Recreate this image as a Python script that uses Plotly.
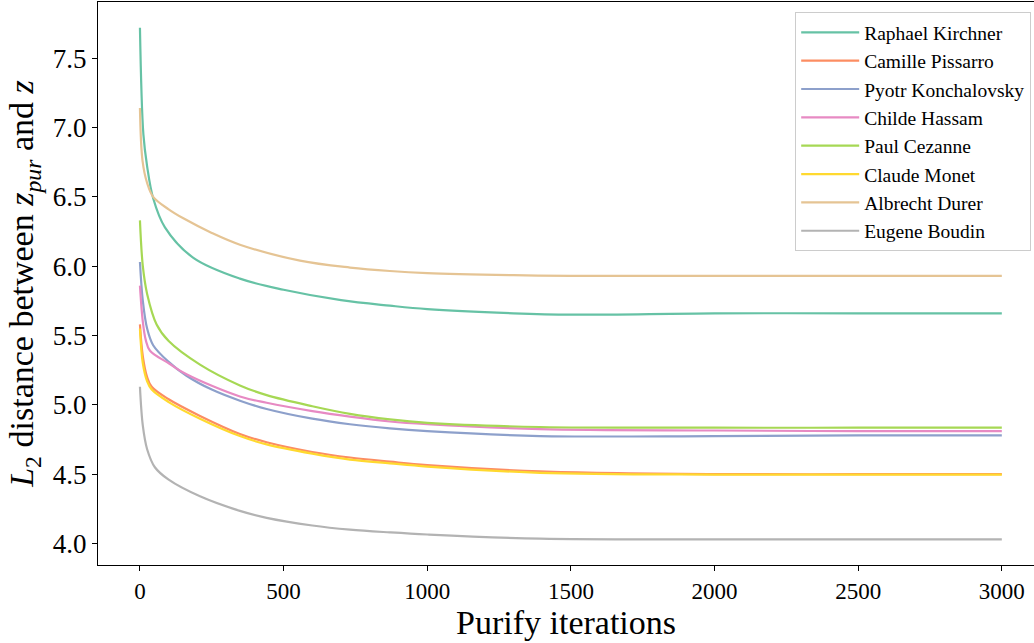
import plotly.graph_objects as go

names = ["Raphael Kirchner", "Camille Pissarro", "Pyotr Konchalovsky", "Childe Hassam",
         "Paul Cezanne", "Claude Monet", "Albrecht Durer", "Eugene Boudin"]
colors = ["#66c2a5", "#fc8d62", "#8da0cb", "#e78ac3", "#a6d854", "#ffd92f", "#e5c494", "#b3b3b3"]

x_kirchner = [0, 12, 25, 46, 87, 186, 348, 500, 700, 870, 1000, 1300, 1500, 2000, 2500, 3000]
y_kirchner = [7.72, 6.95, 6.72, 6.49, 6.28, 6.06, 5.91, 5.83, 5.755, 5.715, 5.69, 5.66, 5.65, 5.66, 5.66, 5.66]

x_pissarro = [0, 10, 25, 41, 100, 209, 348, 441, 600, 731, 870, 1000, 1392, 2000, 2500, 3000]
y_pissarro = [5.58, 5.35, 5.20, 5.13, 5.04, 4.92, 4.79, 4.73, 4.66, 4.62, 4.59, 4.565, 4.52, 4.50, 4.50, 4.50]

x_konchalovsky = [0, 10, 25, 46, 100, 162, 250, 348, 441, 600, 731, 870, 1000, 1392, 2000, 2500, 3000]
y_konchalovsky = [6.03, 5.75, 5.55, 5.43, 5.31, 5.21, 5.11, 5.03, 4.97, 4.90, 4.86, 4.83, 4.81, 4.775, 4.775, 4.78, 4.78]

x_hassam = [0, 10, 20, 35, 100, 162, 348, 441, 600, 731, 870, 1000, 1392, 2000, 2500, 3000]
y_hassam = [5.86, 5.60, 5.47, 5.39, 5.30, 5.22, 5.06, 5.015, 4.955, 4.915, 4.88, 4.86, 4.825, 4.815, 4.81, 4.81]

x_cezanne = [0, 10, 25, 58, 100, 209, 348, 441, 600, 731, 870, 1000, 1392, 2000, 2500, 3000]
y_cezanne = [6.33, 6.00, 5.80, 5.58, 5.46, 5.29, 5.14, 5.07, 4.99, 4.935, 4.895, 4.87, 4.84, 4.835, 4.835, 4.835]

x_monet = [0, 10, 25, 41, 100, 209, 348, 441, 600, 731, 870, 1000, 1392, 2000, 2500, 3000]
y_monet = [5.55, 5.30, 5.17, 5.11, 5.02, 4.90, 4.775, 4.715, 4.648, 4.605, 4.578, 4.555, 4.51, 4.497, 4.497, 4.497]

x_durer = [0, 9, 25, 46, 100, 151, 250, 348, 557, 731, 870, 1000, 1300, 1500, 2000, 2500, 3000]
y_durer = [7.14, 6.76, 6.60, 6.50, 6.41, 6.345, 6.24, 6.155, 6.04, 5.99, 5.965, 5.95, 5.935, 5.93, 5.93, 5.93, 5.93]

x_boudin = [0, 10, 25, 52, 100, 209, 348, 441, 600, 731, 870, 1000, 1392, 2000, 2500, 3000]
y_boudin = [5.13, 4.85, 4.68, 4.55, 4.46, 4.34, 4.235, 4.185, 4.13, 4.10, 4.08, 4.065, 4.035, 4.03, 4.03, 4.03]

series_x = [x_kirchner, x_pissarro, x_konchalovsky, x_hassam, x_cezanne, x_monet, x_durer, x_boudin]
series_y = [y_kirchner, y_pissarro, y_konchalovsky, y_hassam, y_cezanne, y_monet, y_durer, y_boudin]

x_ticks = [0, 500, 1000, 1500, 2000, 2500, 3000]
y_ticks = [4.0, 4.5, 5.0, 5.5, 6.0, 6.5, 7.0, 7.5]

FONT = "Liberation Serif"

fig = go.Figure()
for i, (n, c, xs, ys) in enumerate(zip(names, colors, series_x, series_y)):
    fig.add_trace(go.Scatter(x=xs, y=ys, mode="lines", name=n, legendgroup=f"g{i}",
                             line=dict(color=c, width=2.2, shape="spline", smoothing=1.0)))

fig.update_layout(
    width=1034, height=643,
    margin=dict(l=98, r=0, t=2, b=78, autoexpand=False),
    paper_bgcolor="white", plot_bgcolor="white",
    font=dict(family=FONT, color="black", size=23),
    showlegend=True,
    legend=dict(x=0.997, y=0.982, xanchor="right", yanchor="top",
                bgcolor="rgba(255,255,255,0.8)", bordercolor="#cccccc", borderwidth=1,
                font=dict(family=FONT, size=19.5), tracegroupgap=0,
                itemwidth=58),
)
fig.update_xaxes(range=[-146, 3112], tickvals=x_ticks, ticks="outside", ticklen=5, tickwidth=1,
                 tickcolor="black", showline=True, linecolor="black", linewidth=1, mirror=True,
                 showgrid=False, zeroline=False, automargin=False, tickfont=dict(size=23),
                 title=dict(text="Purify iterations", font=dict(size=34), standoff=6))
fig.update_yaxes(range=[3.845, 7.905], tickvals=y_ticks, tickformat=".1f", ticks="outside",
                 ticklen=5, tickwidth=1, tickcolor="black", showline=True, linecolor="black",
                 linewidth=1, mirror=False, showgrid=False, zeroline=False, automargin=False,
                 tickfont=dict(size=27),
                 title=dict(text="<i>L</i><sub>2</sub> distance between <i>z</i><sub><i>pur</i></sub> and <i>z</i>",
                            font=dict(size=34), standoff=8))

fig.write_html("out.html", config={"displayModeBar": False},
               post_script="document.body.style.margin='0';")
